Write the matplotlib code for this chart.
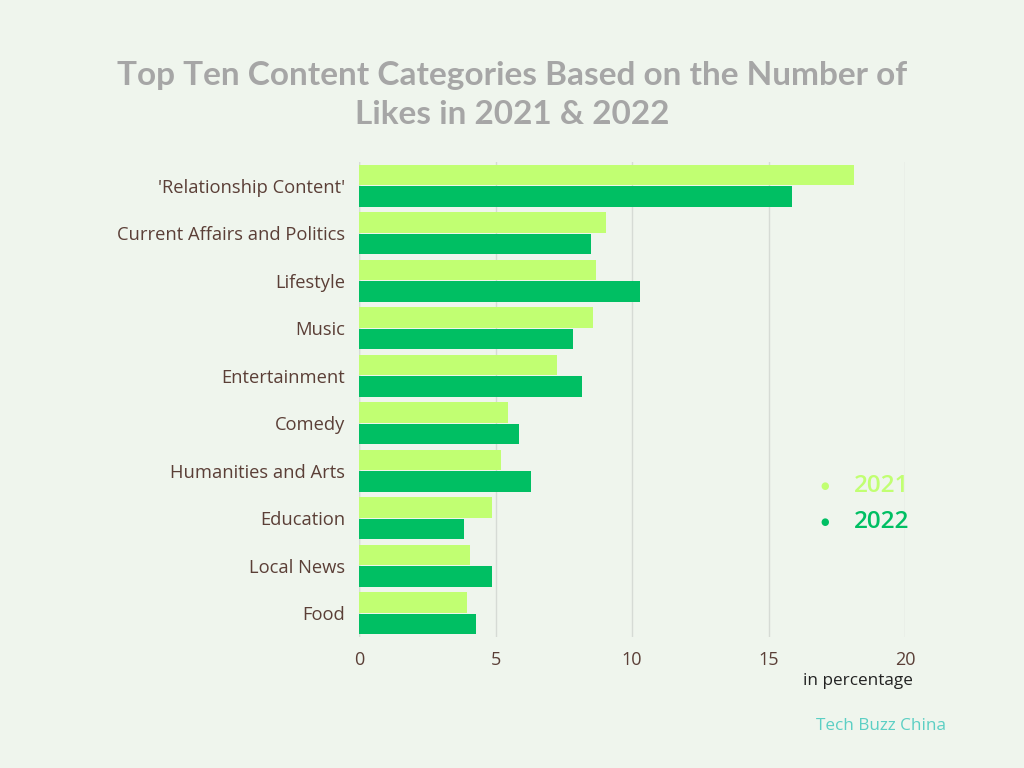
import matplotlib
matplotlib.use("Agg")
import matplotlib.pyplot as plt
import numpy as np

categories = ["'Relationship Content'", "Current Affairs and Politics", "Lifestyle", "Music",
              "Entertainment", "Comedy", "Humanities and Arts", "Education", "Local News", "Food"]
values_2021 = [18.15, 9.03, 8.68, 8.58, 7.27, 5.47, 5.2, 4.86, 4.07, 3.96]
values_2022 = [15.85, 8.5, 10.28, 7.84, 8.17, 5.86, 6.3, 3.85, 4.89, 4.27]
series_names = ["2021", "2022"]
xticks = [0, 5, 10, 15, 20]

BG = "#eff5ed"
C21 = "#c1ff72"
C22 = "#00bf63"
BROWN = "#5b3f37"

plt.rcParams['font.family'] = ['Open Sans', 'DejaVu Sans']

fig = plt.figure(figsize=(10.24, 7.68), dpi=100, facecolor=BG)
ax = fig.add_axes([359/1024, 1-637/768, (905-359)/1024, (637-162)/768])
ax.set_facecolor(BG)

y = np.arange(len(categories))
h = 0.43
ax.barh(y - 0.225, values_2021, height=h, color=C21, zorder=3)
ax.barh(y + 0.225, values_2022, height=h, color=C22, zorder=3)

ax.set_xlim(0, 20)
ax.set_ylim(len(categories) - 0.5, -0.5)
ax.set_xticks(xticks)
ax.set_xticklabels([str(t) for t in xticks], fontsize=13, color=BROWN)
ax.set_yticks(y)
ax.set_yticklabels(categories, fontsize=13.2, color=BROWN)
ax.tick_params(axis='both', length=0)
ax.tick_params(axis='x', pad=10)
ax.tick_params(axis='y', pad=10)
for s in ax.spines.values():
    s.set_visible(False)
ax.grid(axis='x', color='#d6dbd5', linewidth=1, zorder=0)
ax.axvline(0, color='#d6dbd5', linewidth=1, zorder=1)

fig.text(0.5, 1-76/768, "Top Ten Content Categories Based on the Number of",
         ha='center', va='center', fontsize=24, fontweight='bold', color='#a6a6a6',
         family=['Lato', 'DejaVu Sans'])
fig.text(0.5, 1-114/768, "Likes in 2021 & 2022",
         ha='center', va='center', fontsize=24, fontweight='bold', color='#a6a6a6',
         family=['Lato', 'DejaVu Sans'])

# legend
fig.text(825/1024, 1-486/768, "\u25CF", ha='center', va='center', fontsize=7, color=C21,
         family=['DejaVu Sans'])
fig.text(909/1024, 1-486/768, series_names[0], ha='right', va='center', fontsize=17.5,
         fontweight='semibold', color=C21)
fig.text(825/1024, 1-522/768, "\u25CF", ha='center', va='center', fontsize=7, color=C22,
         family=['DejaVu Sans'])
fig.text(909/1024, 1-522/768, series_names[1], ha='right', va='center', fontsize=17.5,
         fontweight='semibold', color=C22)

fig.text(913/1024, 1-681/768, "in percentage", ha='right', va='center', fontsize=12.3, color='#222222')
fig.text(946/1024, 1-726/768, "Tech Buzz China", ha='right', va='center', fontsize=12.3,
         color='#5ccfc4')

fig.savefig("out.png", dpi=100, facecolor=BG)
